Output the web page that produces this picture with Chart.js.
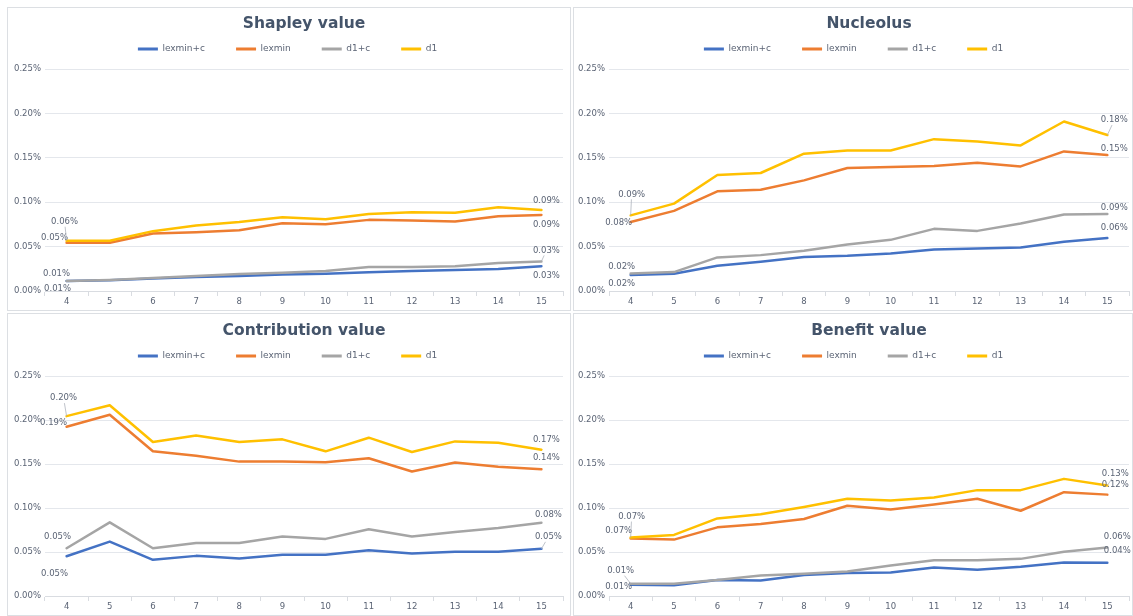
<!DOCTYPE html>
<html><head><meta charset="utf-8">
<script src="https://cdn.jsdelivr.net/npm/chart.js@4.4.0/dist/chart.umd.min.js"></script>
<style>
html,body{margin:0;padding:0;background:#fff;}
body{width:1133px;height:616px;position:relative;overflow:hidden;font-family:"DejaVu Sans";}
.panel{position:absolute;box-sizing:border-box;border:1px solid #dcdfe3;background:#fff;}
.panel canvas{display:block;}
</style></head><body>
<div id="p0" class="panel"><canvas id="c0"></canvas></div>
<div id="p1" class="panel"><canvas id="c1"></canvas></div>
<div id="p2" class="panel"><canvas id="c2"></canvas></div>
<div id="p3" class="panel"><canvas id="c3"></canvas></div>
<script>
// ---------------- data ----------------
const categories = ['4','5','6','7','8','9','10','11','12','13','14','15'];
const seriesNames = ['lexmin+c','lexmin','d1+c','d1'];
const titles = ['Shapley value','Nucleolus','Contribution value','Benefit value'];
const yTickValues = [0, 0.05, 0.10, 0.15, 0.20, 0.25];

const shapleyLexminC = [0.0112,0.0120,0.0142,0.0157,0.0168,0.0187,0.0195,0.0210,0.0225,0.0236,0.0247,0.0280];
const shapleyLexmin  = [0.0543,0.0543,0.0647,0.0662,0.0685,0.0763,0.0752,0.0801,0.0793,0.0782,0.0842,0.0857];
const shapleyD1C     = [0.0112,0.0124,0.0146,0.0168,0.0191,0.0206,0.0225,0.0270,0.0270,0.0280,0.0314,0.0333];
const shapleyD1      = [0.0566,0.0566,0.0674,0.0737,0.0778,0.0831,0.0808,0.0868,0.0887,0.0880,0.0943,0.0913];

const nucleolusLexminC = [0.0180,0.0195,0.0284,0.0329,0.0382,0.0397,0.0423,0.0468,0.0479,0.0490,0.0554,0.0596];
const nucleolusLexmin  = [0.0778,0.0902,0.1123,0.1141,0.1246,0.1385,0.1396,0.1407,0.1445,0.1403,0.1572,0.1531];
const nucleolusD1C     = [0.0198,0.0213,0.0378,0.0404,0.0453,0.0524,0.0576,0.0700,0.0677,0.0760,0.0861,0.0868];
const nucleolusD1      = [0.0852,0.0984,0.1306,0.1329,0.1546,0.1583,0.1583,0.1710,0.1684,0.1639,0.1909,0.1756];

const contributionLexminC = [0.0452,0.0618,0.0411,0.0456,0.0426,0.0468,0.0468,0.0520,0.0483,0.0502,0.0502,0.0536];
const contributionLexmin  = [0.1923,0.2059,0.1644,0.1595,0.1527,0.1527,0.1520,0.1565,0.1414,0.1516,0.1470,0.1440];
const contributionD1C     = [0.0543,0.0837,0.0543,0.0603,0.0603,0.0675,0.0649,0.0758,0.0675,0.0728,0.0773,0.0833];
const contributionD1      = [0.2044,0.2168,0.1750,0.1825,0.1750,0.1780,0.1644,0.1799,0.1637,0.1757,0.1742,0.1663];

const benefitLexminC = [0.0128,0.0121,0.0181,0.0177,0.0238,0.0260,0.0268,0.0324,0.0298,0.0332,0.0381,0.0377];
const benefitLexmin  = [0.0652,0.0641,0.0780,0.0818,0.0875,0.1026,0.0984,0.1041,0.1105,0.0969,0.1180,0.1152];
const benefitD1C     = [0.0140,0.0140,0.0181,0.0234,0.0253,0.0279,0.0347,0.0407,0.0407,0.0422,0.0502,0.0552];
const benefitD1      = [0.0664,0.0694,0.0882,0.0928,0.1011,0.1105,0.1086,0.1120,0.1203,0.1203,0.1331,0.1256];

// ---------------- styles / layout ----------------
const seriesColors = ['#4472C4','#ED7D31','#A5A5A5','#FFC000'];
const FONT = '"DejaVu Sans"';
const textColor = '#5b6475';
const titleColor = '#44546a';
const panelBoxes = [
  {x:7,  y:7,   w:564, h:304, pad:{left:4,right:7,top:5.5,bottom:3}, yW:33, spacer:5.5, titleY:16},
  {x:573,y:7,   w:560, h:304, pad:{left:4,right:3,top:5.5,bottom:3}, yW:31, spacer:5.5, titleY:16},
  {x:7,  y:313, w:564, h:303, pad:{left:4,right:7,top:6.5,bottom:3}, yW:33, spacer:5.5, titleY:17},
  {x:573,y:313, w:560, h:303, pad:{left:4,right:3,top:6.5,bottom:3}, yW:31, spacer:5.5, titleY:17}
];
// label offsets [dx, dy, leader] for first and last point, per series (lexmin+c, lexmin, d1+c, d1)
const labelOffsets = [
  [[[-9,8,0],[5,10,0]], [[-12,-5,0],[5,10,0]], [[-10,-7,0],[5,-11,1]], [[-2,-19,1],[5,-9,0]]],
  [[[-9,9,0],[7,-10,0]], [[-12,1,0],[7,-6,0]], [[-9,-7,0],[7,-6,0]], [[1,-21,1],[7,-15,1]]],
  [[[-12,18,0],[7,-12,1]], [[-13,-4,0],[5,-11,0]], [[-9,-11,0],[7,-8,0]], [[-3,-18,1],[5,-10,0]]],
  [[[-12,2,0],[10,-12,0]], [[-12,-8,0],[8,-10,0]], [[-10,-13,1],[10,-11,0]], [[1,-21,1],[8,-12,1]]]
];

const panelSeries = [
  [shapleyLexminC, shapleyLexmin, shapleyD1C, shapleyD1],
  [nucleolusLexminC, nucleolusLexmin, nucleolusD1C, nucleolusD1],
  [contributionLexminC, contributionLexmin, contributionD1C, contributionD1],
  [benefitLexminC, benefitLexmin, benefitD1C, benefitD1]
];

const titlePlugin = {
  id: 'areaTitle',
  afterDraw(chart, args, opts) {
    const ca = chart.chartArea, ctx = chart.ctx;
    ctx.save();
    ctx.font = 'bold 15.5px ' + FONT;
    ctx.fillStyle = titleColor;
    ctx.textAlign = 'center';
    ctx.textBaseline = 'middle';
    ctx.fillText(opts.text, (ca.left + ca.right) / 2, opts.y);
    ctx.restore();
  }
};

const endLabelPlugin = {
  id: 'endLabels',
  afterDatasetsDraw(chart, args, opts) {
    const ctx = chart.ctx;
    ctx.save();
    ctx.font = '8.5px ' + FONT;
    ctx.textAlign = 'center';
    ctx.textBaseline = 'middle';
    chart.data.datasets.forEach((ds, di) => {
      const meta = chart.getDatasetMeta(di);
      const idxs = [0, ds.data.length - 1];
      idxs.forEach((idx, k) => {
        const pt = meta.data[idx];
        const o = opts.offsets[di][k];
        const lx = pt.x + o[0], ly = pt.y + o[1];
        if (o[2]) {
          const dy = pt.y - ly;
          const edge = dy > 0 ? 5 : -5;
          const sx = lx + (pt.x - lx) * (edge / dy);
          ctx.strokeStyle = '#a9afb8';
          ctx.lineWidth = 0.75;
          ctx.beginPath();
          ctx.moveTo(sx, ly + edge);
          ctx.lineTo(pt.x, pt.y);
          ctx.stroke();
        }
        ctx.fillStyle = textColor;
        ctx.fillText(ds.data[idx].toFixed(2) + '%', lx, ly);
      });
    });
    ctx.restore();
  }
};

panelBoxes.forEach((pb, p) => {
  const div = document.getElementById('p' + p);
  div.style.left = pb.x + 'px'; div.style.top = pb.y + 'px';
  div.style.width = pb.w + 'px'; div.style.height = pb.h + 'px';
  const cv = document.getElementById('c' + p);
  cv.width = pb.w - 2; cv.height = pb.h - 2;
  cv.style.width = (pb.w - 2) + 'px'; cv.style.height = (pb.h - 2) + 'px';

  const datasets = seriesNames.map((name, i) => ({
    label: name,
    data: panelSeries[p][i],
    xAxisID: 'x',
    yAxisID: 'y',
    borderColor: seriesColors[i],
    backgroundColor: seriesColors[i],
    borderWidth: 2.5,
    pointRadius: 0,
    pointHoverRadius: 0,
    tension: 0,
    fill: false,
    order: 4 - i,
    borderCapStyle: 'round',
    borderJoinStyle: 'round'
  }));

  new Chart(cv, {
    type: 'line',
    data: { labels: categories, datasets },
    plugins: [titlePlugin, endLabelPlugin],
    options: {
      responsive: false,
      animation: false,
      devicePixelRatio: 1,
      layout: { padding: pb.pad },
      plugins: {
        tooltip: { enabled: false },
        title: { display: false },
        areaTitle: { text: titles[p], y: pb.titleY },
        endLabels: { offsets: labelOffsets[p] },
        legend: {
          display: true,
          position: 'top',
          align: 'center',
          labels: {
            boxWidth: 20,
            boxHeight: 3,
            padding: 31,
            color: textColor,
            font: { family: FONT, size: 9 },
            sort: (a, b) => a.datasetIndex - b.datasetIndex,
            generateLabels: (chart) => {
              const items = Chart.defaults.plugins.legend.labels.generateLabels(chart);
              items.forEach(it => { it.lineWidth = 0; it.fillStyle = seriesColors[it.datasetIndex]; });
              return items;
            }
          }
        }
      },
      scales: {
        x: {
          type: 'category', offset: true,
          grid: { offset: true, drawOnChartArea: false, drawTicks: true, tickLength: 5, color: '#d9dce1' },
          border: { display: true, color: '#d9dce1', width: 1 },
          ticks: { color: textColor, font: { family: FONT, size: 8.5 }, padding: 1, maxRotation: 0, autoSkip: false },
          afterFit: (s) => { s.height = 16; }
        },
        xTop: {
          type: 'category', labels: categories, position: 'top', display: true,
          grid: { display: false, drawTicks: false }, border: { display: false },
          ticks: { display: false },
          afterFit: (s) => { s.height = pb.spacer; }
        },
        y: {
          min: yTickValues[0], max: yTickValues[yTickValues.length - 1],
          afterBuildTicks: (s) => { s.ticks = yTickValues.map(v => ({ value: v })); },
          ticks: { color: textColor, font: { family: FONT, size: 8.5 }, padding: 4,
                   callback: (v) => Number(v).toFixed(2) + '%' },
          grid: { color: '#e4e7ec', drawTicks: false },
          border: { display: false },
          afterFit: (s) => { s.width = pb.yW; }
        }
      }
    }
  });
});
</script>
</body></html>
